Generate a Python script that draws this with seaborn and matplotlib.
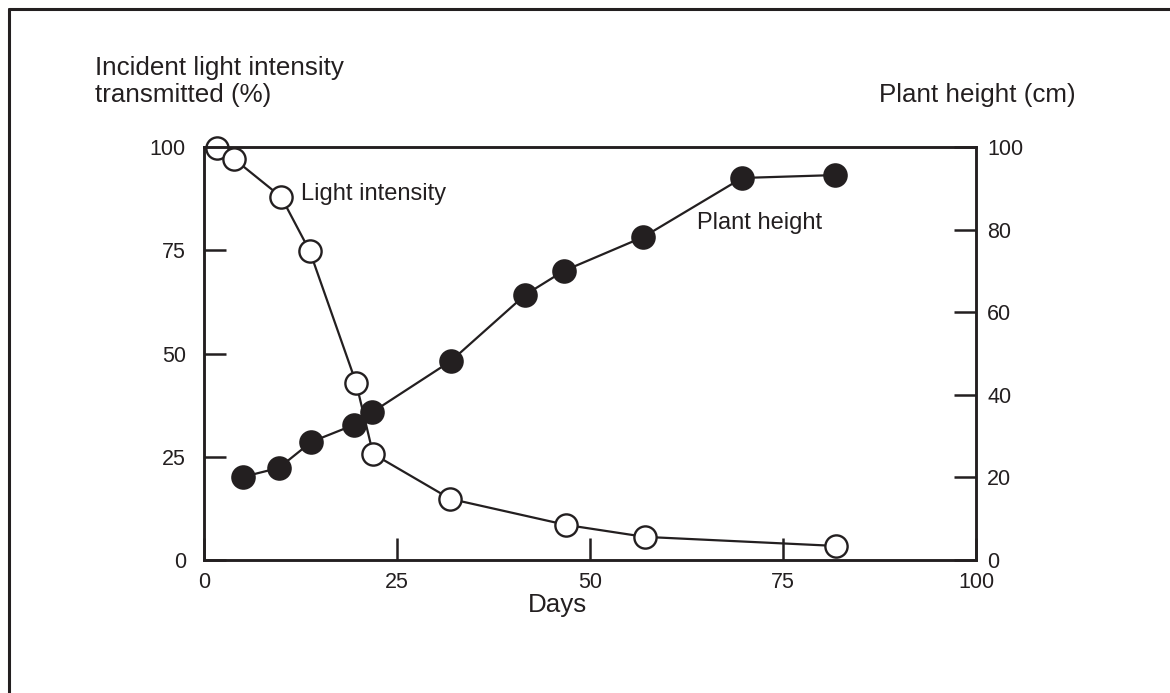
import matplotlib
matplotlib.use("Agg")
import matplotlib.pyplot as plt
import seaborn as sns
import pandas as pd
from matplotlib.lines import Line2D

# Values
light_days = [1.7, 3.9, 10.0, 13.7, 19.7, 21.9, 31.9, 46.9, 57.1, 81.9]
light_pct = [99.8, 97.1, 87.9, 74.8, 42.9, 25.7, 14.8, 8.5, 5.6, 3.4]

height_days = [5.0, 9.7, 13.9, 19.4, 21.8, 32.0, 41.6, 46.6, 56.9, 69.7, 81.7]
height_cm = [20.1, 22.3, 28.6, 32.7, 35.8, 48.2, 64.2, 70.0, 78.2, 92.5, 93.2]

x_ticks = [0, 25, 50, 75, 100]
left_ticks = [0, 25, 50, 75, 100]
right_ticks = [0, 20, 40, 60, 80, 100]

ink = "#231f20"
W, H = 1170, 693

sns.set_style("ticks")
plt.rcParams["font.family"] = ["Liberation Sans", "DejaVu Sans"]
plt.rcParams["text.color"] = ink

light_df = pd.DataFrame({"days": light_days, "pct": light_pct})
height_df = pd.DataFrame({"days": height_days, "cm": height_cm})

fig = plt.figure(figsize=(W / 100, H / 100), dpi=100)
ax = fig.add_axes([204 / W, 133 / H, 772 / W, 413 / H])
ax2 = ax.twinx()

marker_kw = dict(marker="o", markersize=16, markeredgewidth=1.7, linewidth=1.6)

sns.lineplot(data=light_df, x="days", y="pct", ax=ax, color=ink,
             markerfacecolor="white", markeredgecolor=ink, **marker_kw)
sns.lineplot(data=height_df, x="days", y="cm", ax=ax2, color=ink,
             markerfacecolor=ink, markeredgecolor=ink, **marker_kw)

for a in (ax, ax2):
    a.set_xlim(0, 100)
    a.set_ylim(0, 100)
    a.set_xlabel("")
    a.set_ylabel("")
    for s in a.spines.values():
        s.set_visible(True)
        s.set_linewidth(1.8)
        s.set_color(ink)
    for line in a.lines:
        line.set_clip_on(False)

ax.set_xticks(x_ticks)
ax.set_yticks(left_ticks)
ax2.set_yticks(right_ticks)
ax.tick_params(axis="x", direction="in", length=16, width=1.8, color=ink,
               labelsize=15.5, pad=9, labelcolor=ink)
ax.tick_params(axis="y", direction="in", length=16, width=1.8, color=ink,
               labelsize=15.5, pad=13, labelcolor=ink)
ax2.tick_params(axis="y", direction="in", length=16, width=1.8, color=ink,
                labelsize=15.5, pad=8, labelcolor=ink)

title_size = 18.7
fig.text(95 / W, 1 - 75 / H, "Incident light intensity",
         fontsize=title_size, ha="left", va="baseline")
fig.text(95 / W, 1 - 102 / H, "transmitted (%)",
         fontsize=title_size, ha="left", va="baseline")
fig.text(879 / W, 1 - 102 / H, "Plant height (cm)",
         fontsize=title_size, ha="left", va="baseline")
fig.text(558 / W, 1 - 612 / H, "Days",
         fontsize=title_size, ha="center", va="baseline")

ax.text(12.6, 88.5, "Light intensity", fontsize=17, ha="left", va="center")
ax2.text(63.8, 81.5, "Plant height", fontsize=17, ha="left", va="center")

# outer frame (top and left edges visible)
fx, fy = 9 / W, 1 - 9 / H
fig.add_artist(Line2D([fx, 1.0], [fy, fy], transform=fig.transFigure,
                      color=ink, linewidth=2.2))
fig.add_artist(Line2D([fx, fx], [0.0, fy], transform=fig.transFigure,
                      color=ink, linewidth=2.2))

fig.savefig("out.png", dpi=100)
